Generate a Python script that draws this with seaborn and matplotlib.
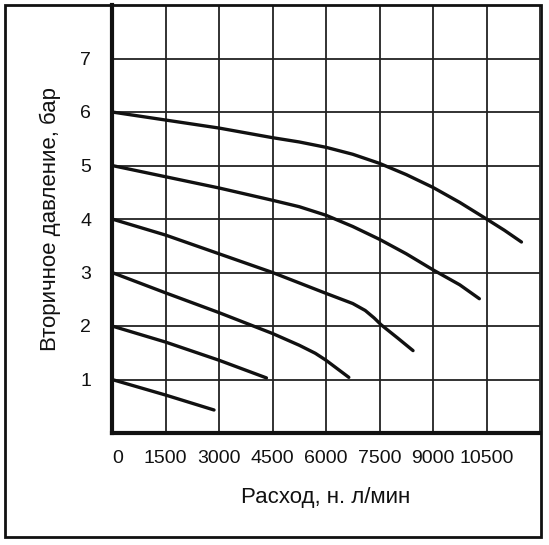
import matplotlib
matplotlib.use("Agg")
import matplotlib.pyplot as plt
import seaborn as sns
import pandas as pd
from matplotlib.patches import Rectangle

# Data
c1_x = [0, 1500, 2860]
c1_y = [1.0, 0.71, 0.43]
c2_x = [0, 1500, 3000, 4330]
c2_y = [2.0, 1.70, 1.36, 1.03]
c3_x = [0, 1500, 3000, 4500, 5250, 5700, 6000, 6640]
c3_y = [3.0, 2.62, 2.25, 1.86, 1.64, 1.49, 1.36, 1.04]
c4_x = [0, 1500, 3000, 4500, 6000, 6750, 7100, 7350, 7550, 8000, 8440]
c4_y = [4.0, 3.70, 3.35, 3.00, 2.61, 2.42, 2.29, 2.15, 2.02, 1.78, 1.54]
c5_x = [0, 1500, 3000, 4500, 5250, 6000, 6750, 7500, 8250, 9000, 9750, 10300]
c5_y = [5.0, 4.79, 4.58, 4.35, 4.23, 4.07, 3.86, 3.62, 3.35, 3.05, 2.77, 2.51]
c6_x = [0, 1500, 3000, 4500, 5250, 6000, 6750, 7500, 8250, 9000, 9750, 10500, 11000, 11480]
c6_y = [6.0, 5.85, 5.70, 5.52, 5.44, 5.34, 5.21, 5.04, 4.83, 4.59, 4.31, 4.00, 3.79, 3.57]

x_ticks = [0, 1500, 3000, 4500, 6000, 7500, 9000, 10500]
y_ticks = [1, 2, 3, 4, 5, 6, 7]
x_label = "Расход, н. л/мин"
y_label = "Вторичное давление, бар"

curves = [(c1_x, c1_y), (c2_x, c2_y), (c3_x, c3_y),
          (c4_x, c4_y), (c5_x, c5_y), (c6_x, c6_y)]
rows = []
for i, (xs, ys) in enumerate(curves):
    for x, y in zip(xs, ys):
        rows.append({"flow": x, "pressure": y, "curve": f"c{i+1}"})
df = pd.DataFrame(rows)

sns.set_style("white")
plt.rcParams['font.family'] = ['Liberation Sans', 'DejaVu Sans']

fig = plt.figure(figsize=(5.49, 5.45), dpi=100)
ax = fig.add_axes([112/549, (545-433)/545, 428/549, 428/545])

sns.lineplot(data=df, x="flow", y="pressure", hue="curve",
             palette=["#111111"]*6, linewidth=2.4, legend=False,
             sort=False, ax=ax, zorder=3)

ax.set_xlim(0, 12000)
ax.set_ylim(0, 8)
ax.set_xticks(list(range(0, 12001, 1500)))
ax.set_xticklabels([str(t) for t in x_ticks] + [""], fontsize=14)
ax.set_yticks(list(range(0, 9)))
ax.set_yticklabels([""] + [str(t) for t in y_ticks] + [""], fontsize=14)
ax.tick_params(axis="x", length=0, colors="#111111", pad=12)
ax.tick_params(axis="y", length=3, width=1, colors="#111111", pad=12)
ax.grid(True, color="#222222", linewidth=1.3)
ax.set_axisbelow(True)
ax.get_xticklabels()[0].set_horizontalalignment("left")

for side in ["top", "right"]:
    ax.spines[side].set_visible(False)
for side in ["left", "bottom"]:
    ax.spines[side].set_linewidth(3)
    ax.spines[side].set_color("#111111")

ax.set_xlabel(x_label, fontsize=16, labelpad=15, color="#111111")
ax.set_ylabel(y_label, fontsize=16, labelpad=14, color="#111111")

fig.patches.append(Rectangle((5/549, (545-537)/545), 536/549, 532/545,
                             transform=fig.transFigure, fill=False,
                             edgecolor="#111111", linewidth=2, zorder=10))

fig.savefig("out.png", dpi=100)
